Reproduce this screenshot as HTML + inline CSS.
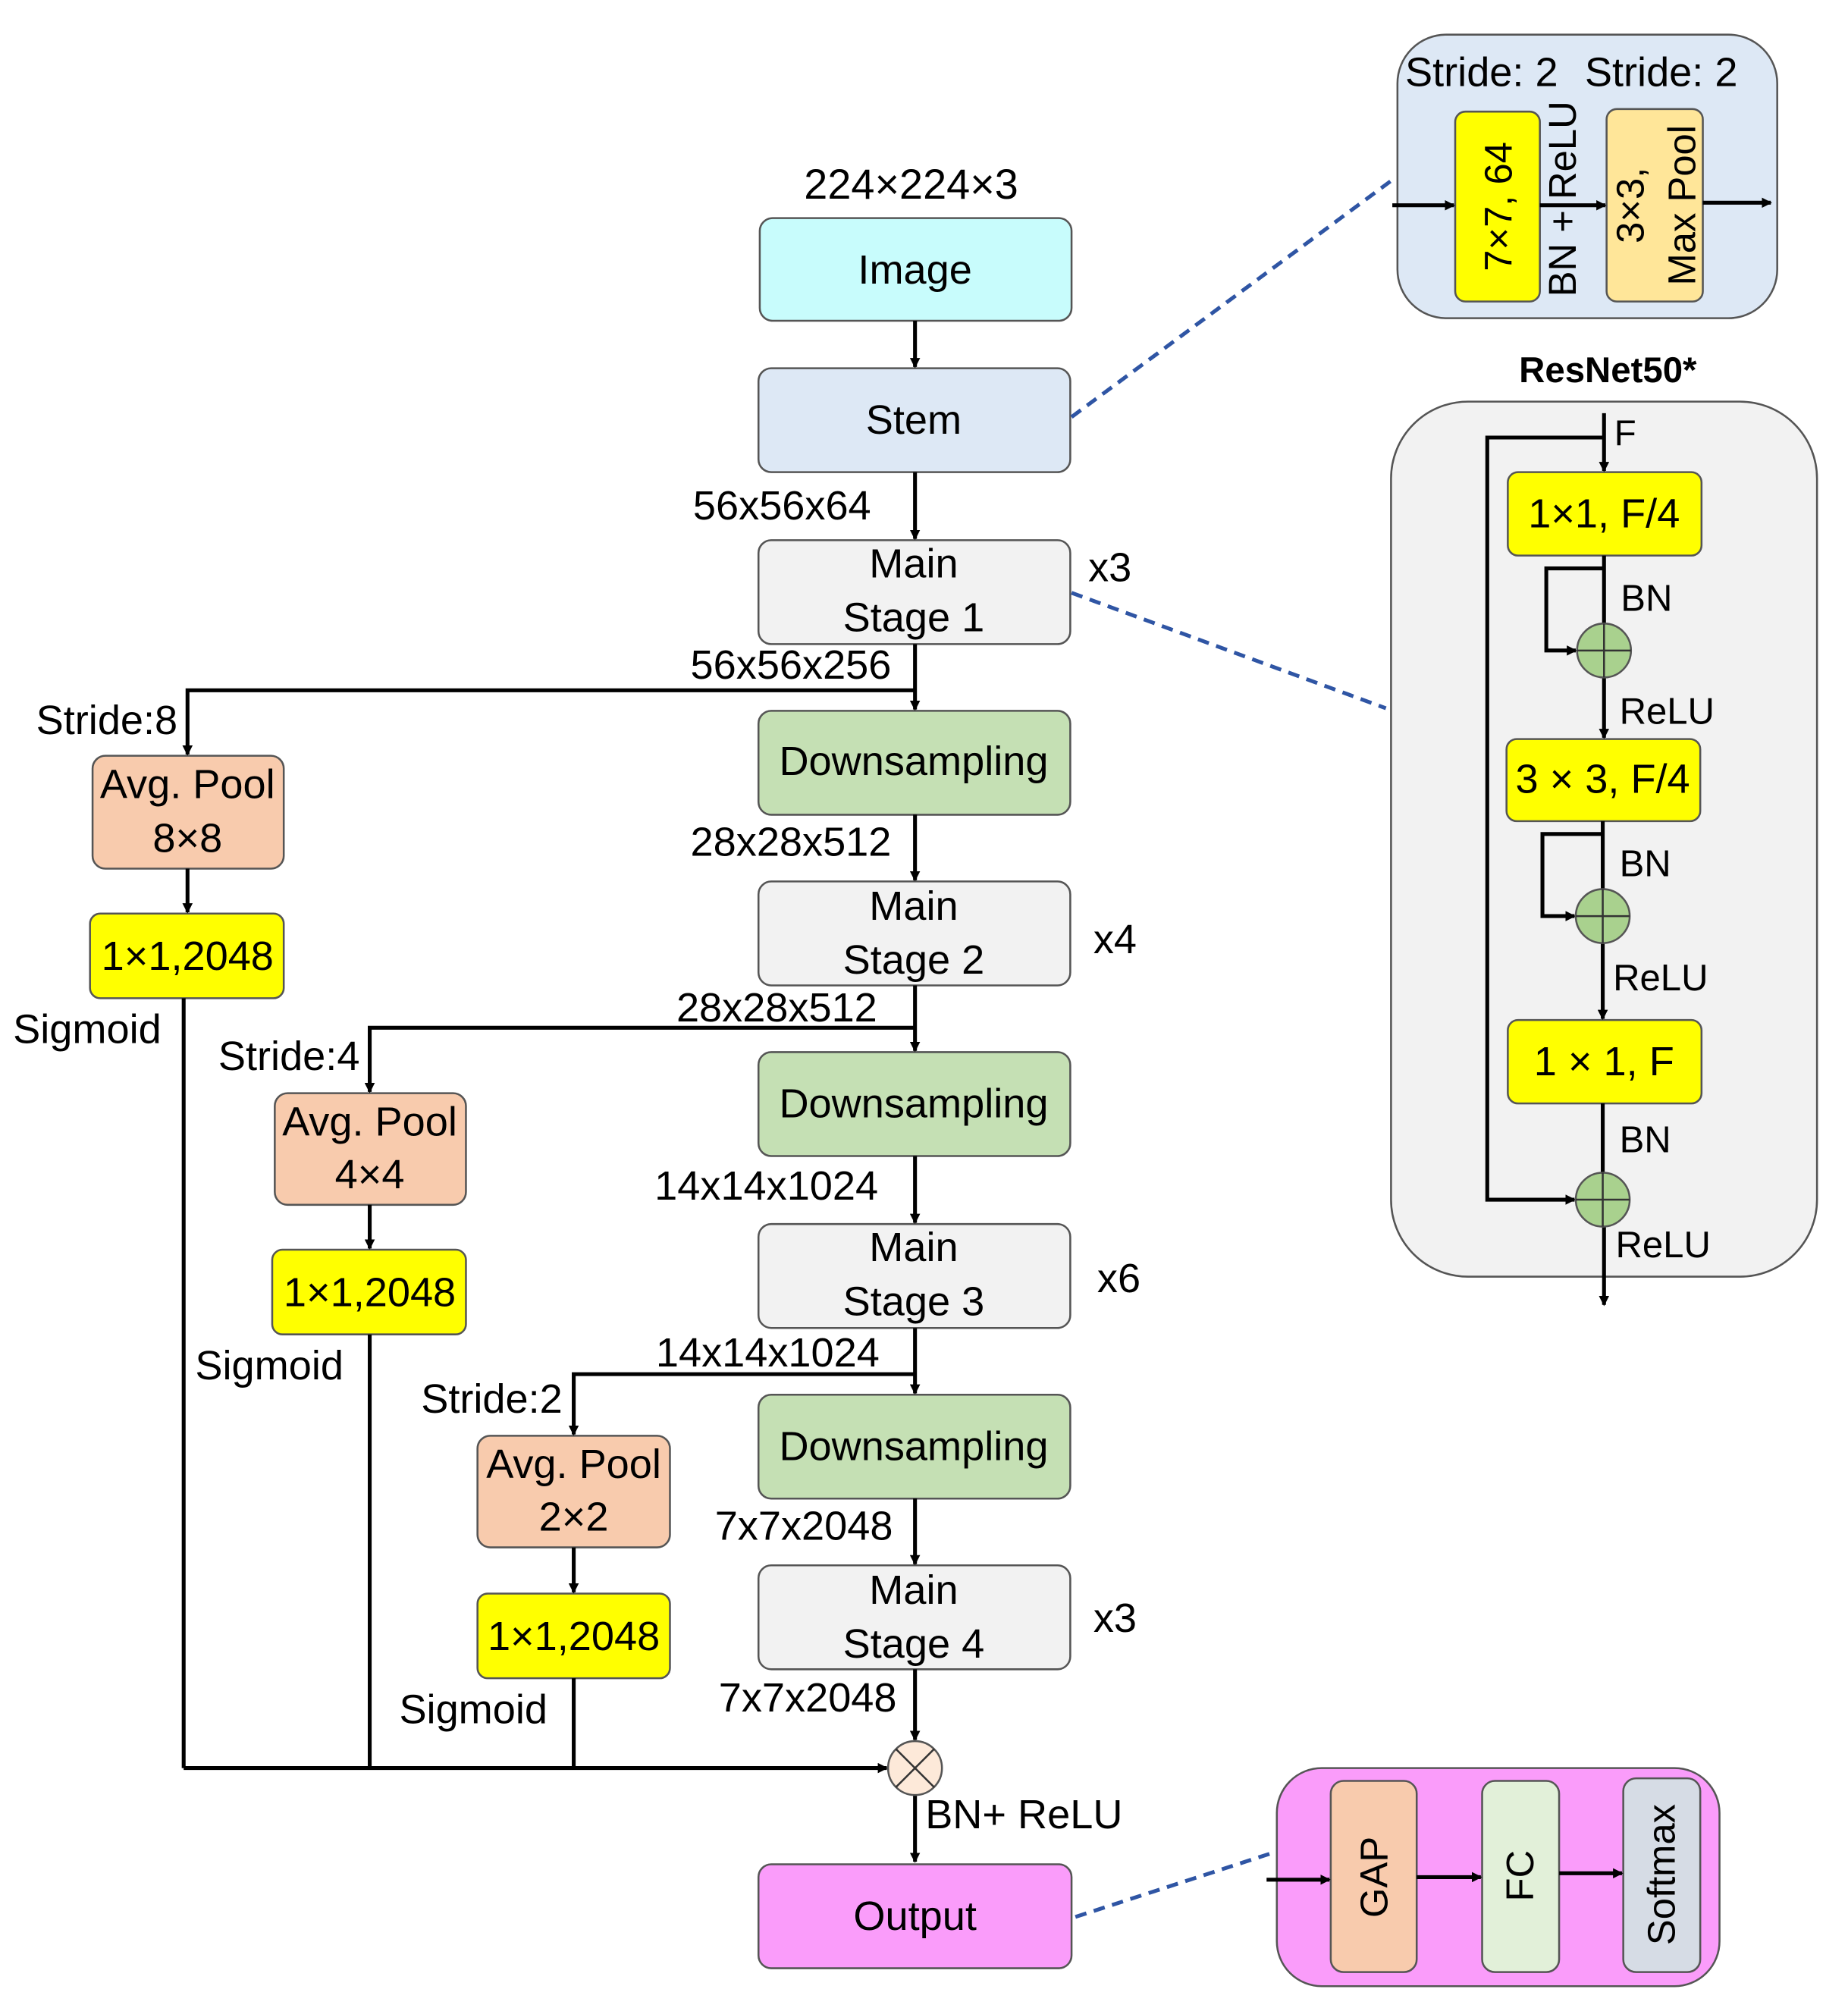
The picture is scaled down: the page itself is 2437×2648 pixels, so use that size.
<!DOCTYPE html>
<html><head><meta charset="utf-8"><style>html,body{margin:0;padding:0;background:#fff}svg{display:block}</style></head>
<body>
<svg width="2437" height="2648" viewBox="0 0 1440 1565" xmlns="http://www.w3.org/2000/svg" font-family="Liberation Sans, sans-serif" font-size="32" fill="#000">
<defs>
<marker id="a" markerWidth="8" markerHeight="8" refX="7" refY="4" orient="auto" markerUnits="userSpaceOnUse"><path d="M0,0 L8,4 L0,8 z" fill="#000"/></marker>
</defs>
<g stroke="#555" stroke-width="1.5">
<rect x="592" y="170" width="243" height="80" rx="10" fill="#c8fcfc"/>
<rect x="591" y="287" width="243" height="81" rx="10" fill="#dde8f5"/>
<rect x="591" y="421" width="243" height="81" rx="10" fill="#f2f2f2"/>
<rect x="591" y="554" width="243" height="81" rx="10" fill="#c5e0b4"/>
<rect x="591" y="687" width="243" height="81" rx="10" fill="#f2f2f2"/>
<rect x="591" y="820" width="243" height="81" rx="10" fill="#c5e0b4"/>
<rect x="591" y="954" width="243" height="81" rx="10" fill="#f2f2f2"/>
<rect x="591" y="1087" width="243" height="81" rx="10" fill="#c5e0b4"/>
<rect x="591" y="1220" width="243" height="81" rx="10" fill="#f2f2f2"/>
<rect x="591" y="1453" width="244" height="81" rx="10" fill="#fa9cfa"/>
<rect x="72" y="589" width="149" height="88" rx="10" fill="#f8cbad"/>
<rect x="70" y="712" width="151" height="66" rx="8" fill="#ffff00"/>
<rect x="214" y="852" width="149" height="87" rx="10" fill="#f8cbad"/>
<rect x="212" y="974" width="151" height="66" rx="8" fill="#ffff00"/>
<rect x="372" y="1119" width="150" height="87" rx="10" fill="#f8cbad"/>
<rect x="372" y="1242" width="150" height="66" rx="8" fill="#ffff00"/>
<rect x="1089" y="27" width="296" height="221" rx="38" fill="#dde8f5"/>
<rect x="1134" y="87" width="66" height="148" rx="8" fill="#ffff00"/>
<rect x="1252" y="85" width="75" height="150" rx="8" fill="#ffe699"/>
<rect x="1084" y="313" width="332" height="682" rx="60" fill="#f2f2f2"/>
<rect x="1175" y="368" width="151" height="65" rx="8" fill="#ffff00"/>
<rect x="1174" y="576" width="151" height="64" rx="8" fill="#ffff00"/>
<rect x="1175" y="795" width="151" height="65" rx="8" fill="#ffff00"/>
<rect x="995" y="1378" width="345" height="170" rx="35" fill="#fa9cfa"/>
<rect x="1037" y="1388" width="67" height="149" rx="10" fill="#f8cbad"/>
<rect x="1155" y="1388" width="60" height="149" rx="10" fill="#e2f0d9"/>
<rect x="1265" y="1386" width="60" height="151" rx="10" fill="#d6dce5"/>
</g>
<g stroke="#000" stroke-width="3" fill="none">
<line x1="713" y1="250" x2="713" y2="286" marker-end="url(#a)"/>
<line x1="713" y1="368" x2="713" y2="420" marker-end="url(#a)"/>
<line x1="713" y1="502" x2="713" y2="553" marker-end="url(#a)"/>
<polyline points="713,538 146,538 146,588" marker-end="url(#a)"/>
<line x1="146" y1="677" x2="146" y2="711" marker-end="url(#a)"/>
<line x1="713" y1="635" x2="713" y2="686" marker-end="url(#a)"/>
<line x1="713" y1="768" x2="713" y2="819" marker-end="url(#a)"/>
<polyline points="713,801 288,801 288,851" marker-end="url(#a)"/>
<line x1="288" y1="939" x2="288" y2="973" marker-end="url(#a)"/>
<line x1="713" y1="901" x2="713" y2="953" marker-end="url(#a)"/>
<line x1="713" y1="1035" x2="713" y2="1086" marker-end="url(#a)"/>
<polyline points="713,1071 447,1071 447,1118" marker-end="url(#a)"/>
<line x1="447" y1="1206" x2="447" y2="1241" marker-end="url(#a)"/>
<line x1="713" y1="1168" x2="713" y2="1219" marker-end="url(#a)"/>
<line x1="713" y1="1301" x2="713" y2="1356" marker-end="url(#a)"/>
<line x1="143" y1="778" x2="143" y2="1378"/>
<line x1="288" y1="1040" x2="288" y2="1378"/>
<line x1="447" y1="1308" x2="447" y2="1378"/>
<line x1="143" y1="1378" x2="691" y2="1378" marker-end="url(#a)"/>
<line x1="713" y1="1399" x2="713" y2="1451" marker-end="url(#a)"/>
<line x1="1085" y1="160" x2="1133" y2="160" marker-end="url(#a)"/>
<line x1="1200" y1="160" x2="1251" y2="160" marker-end="url(#a)"/>
<line x1="1327" y1="158" x2="1380" y2="158" marker-end="url(#a)"/>
<line x1="1250" y1="322" x2="1250" y2="367" marker-end="url(#a)"/>
<polyline points="1250,341 1159,341 1159,935 1227,935" marker-end="url(#a)"/>
<line x1="1250" y1="433" x2="1250" y2="486"/>
<polyline points="1250,443 1205,443 1205,507 1228,507" marker-end="url(#a)"/>
<line x1="1250" y1="528" x2="1250" y2="575" marker-end="url(#a)"/>
<line x1="1249" y1="640" x2="1249" y2="693"/>
<polyline points="1249,650 1202,650 1202,714 1227,714" marker-end="url(#a)"/>
<line x1="1249" y1="735" x2="1249" y2="794" marker-end="url(#a)"/>
<line x1="1249" y1="860" x2="1249" y2="914"/>
<line x1="1250" y1="956" x2="1250" y2="1017" marker-end="url(#a)"/>
<line x1="987" y1="1465" x2="1036" y2="1465" marker-end="url(#a)"/>
<line x1="1104" y1="1463" x2="1154" y2="1463" marker-end="url(#a)"/>
<line x1="1215" y1="1460" x2="1264" y2="1460" marker-end="url(#a)"/>
</g>
<g stroke="#2f55a4" stroke-width="3" stroke-dasharray="9,6" fill="none">
<line x1="835" y1="325" x2="1088" y2="138"/>
<line x1="835" y1="462" x2="1080" y2="552"/>
<line x1="838" y1="1494" x2="995" y2="1443"/>
</g>
<g stroke="#555" stroke-width="1.5">
<circle cx="713" cy="1378" r="21" fill="#fde9d9"/>
<path d="M698,1363 L728,1393 M728,1363 L698,1393" stroke="#333"/>
<circle cx="1250" cy="507" r="21" fill="#a9d18e"/>
<circle cx="1249" cy="714" r="21" fill="#a9d18e"/>
<circle cx="1249" cy="935" r="21" fill="#a9d18e"/>
<path d="M1229,507 H1271 M1250,486 V528 M1228,714 H1270 M1249,693 V735 M1228,935 H1270 M1249,914 V956" stroke="#333"/>
</g>
<g text-anchor="middle">
<text x="710" y="155" font-size="33">224×224×3</text>
<text x="713" y="221">Image</text>
<text x="712" y="338">Stem</text>
<text x="712" y="450">Main</text>
<text x="712" y="492">Stage 1</text>
<text x="712" y="604">Downsampling</text>
<text x="712" y="717">Main</text>
<text x="712" y="759">Stage 2</text>
<text x="712" y="871">Downsampling</text>
<text x="712" y="983">Main</text>
<text x="712" y="1025">Stage 3</text>
<text x="712" y="1138">Downsampling</text>
<text x="712" y="1250">Main</text>
<text x="712" y="1292">Stage 4</text>
<text x="713" y="1504">Output</text>
<text x="146" y="622">Avg. Pool</text>
<text x="146" y="664">8×8</text>
<text x="146" y="756">1×1,2048</text>
<text x="288" y="885">Avg. Pool</text>
<text x="288" y="926">4×4</text>
<text x="288" y="1018">1×1,2048</text>
<text x="447" y="1152">Avg. Pool</text>
<text x="447" y="1193">2×2</text>
<text x="447" y="1286">1×1,2048</text>
<text x="1250" y="411">1×1, F/4</text>
<text x="1249" y="618">3 × 3, F/4</text>
<text x="1250" y="838">1 × 1, F</text>
<text x="1253" y="298" font-weight="bold" font-size="28">ResNet50*</text>
</g>
<text x="540" y="405">56x56x64</text>
<text x="538" y="529">56x56x256</text>
<text x="538" y="667">28x28x512</text>
<text x="527" y="796">28x28x512</text>
<text x="510" y="935">14x14x1024</text>
<text x="511" y="1065">14x14x1024</text>
<text x="557" y="1200">7x7x2048</text>
<text x="560" y="1334">7x7x2048</text>
<text x="848" y="453">x3</text>
<text x="852" y="743">x4</text>
<text x="855" y="1007">x6</text>
<text x="852" y="1272">x3</text>
<text x="28" y="572">Stride:8</text>
<text x="170" y="834">Stride:4</text>
<text x="328" y="1101">Stride:2</text>
<text x="10" y="813">Sigmoid</text>
<text x="152" y="1075">Sigmoid</text>
<text x="311" y="1343">Sigmoid</text>
<text x="721" y="1425">BN+ ReLU</text>
<text x="1095" y="67">Stride: 2</text>
<text x="1235" y="67">Stride: 2</text>
<text x="1258" y="347" font-size="28">F</text>
<text x="1263" y="476" font-size="29">BN</text>
<text x="1262" y="564" font-size="29">ReLU</text>
<text x="1262" y="683" font-size="29">BN</text>
<text x="1257" y="772" font-size="29">ReLU</text>
<text x="1262" y="898" font-size="29">BN</text>
<text x="1259" y="980" font-size="29">ReLU</text>
<g font-size="30" text-anchor="middle">
<text transform="translate(1178,161) rotate(-90)">7×7, 64</text>
<text transform="translate(1228,155) rotate(-90)">BN + ReLU</text>
<text transform="translate(1281,160) rotate(-90)">3×3,</text>
<text transform="translate(1321,160) rotate(-90)">Max Pool</text>
<text transform="translate(1081,1463) rotate(-90)">GAP</text>
<text transform="translate(1195,1462) rotate(-90)">FC</text>
<text transform="translate(1305,1461) rotate(-90)">Softmax</text>
</g>
</svg>
</body></html>
